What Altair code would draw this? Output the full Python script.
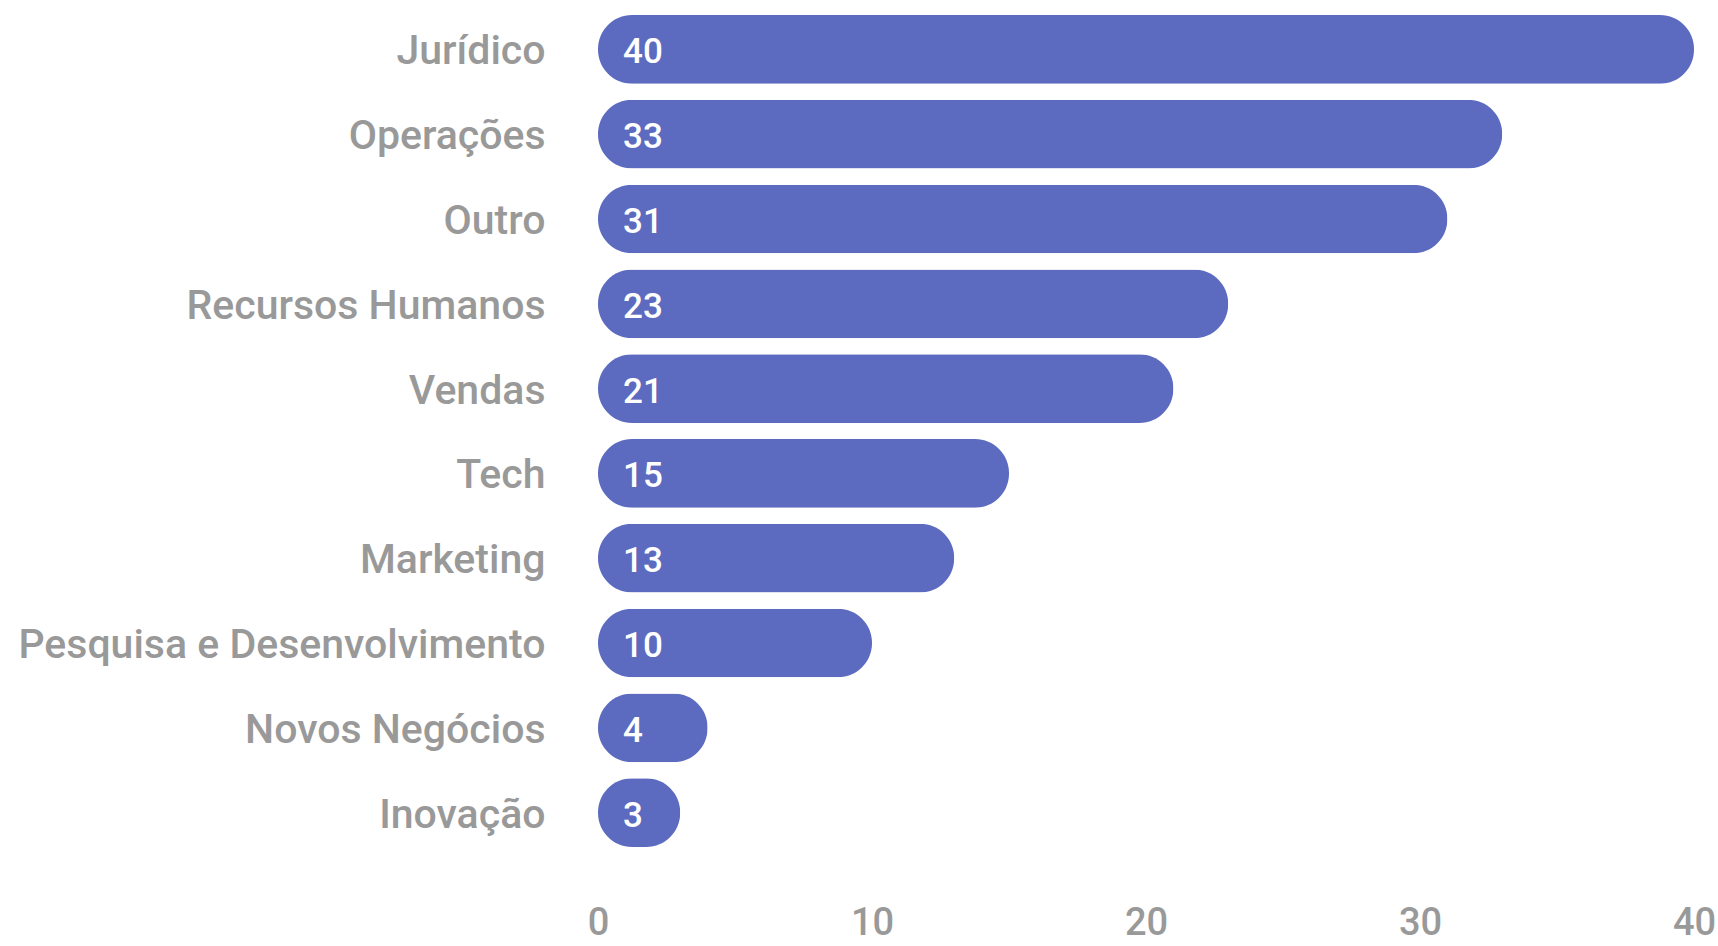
import altair as alt
import pandas as pd

# Department counts, top to bottom
departments = [
    "Jurídico",
    "Operações",
    "Outro",
    "Recursos Humanos",
    "Vendas",
    "Tech",
    "Marketing",
    "Pesquisa e Desenvolvimento",
    "Novos Negócios",
    "Inovação",
]
counts = [40, 33, 31, 23, 21, 15, 13, 10, 4, 3]
x_ticks = [0, 10, 20, 30, 40]

df = pd.DataFrame({"departamento": departments, "total": counts})

BAR_COLOR = "#5c6bc0"
TEXT_GRAY = "#999999"
FONT = "Roboto"

y_enc = alt.Y(
    "departamento:N",
    sort=departments,
    scale=alt.Scale(paddingInner=0.19, paddingOuter=0.095),
    axis=alt.Axis(
        title=None,
        domain=False,
        ticks=False,
        labelFont=FONT,
        labelFontWeight=500,
        labelFontSize=41,
        labelColor=TEXT_GRAY,
        labelPadding=53,
        labelLimit=700,
        labelBaseline="middle",
        labelOffset=3,
    ),
)

x_enc = alt.X(
    "total:Q",
    scale=alt.Scale(domain=[0, 40], nice=False),
    axis=alt.Axis(
        title=None,
        values=x_ticks,
        domain=False,
        ticks=False,
        grid=False,
        labelFont=FONT,
        labelFontWeight=500,
        labelFontSize=38,
        labelColor=TEXT_GRAY,
        labelPadding=49,
        labelFlush=False,
    ),
)

bars = alt.Chart(df).mark_bar(color=BAR_COLOR, cornerRadius=34).encode(
    x=x_enc,
    y=y_enc,
)

values = alt.Chart(df).mark_text(
    align="left",
    baseline="middle",
    dx=25,
    dy=3,
    font=FONT,
    fontWeight=500,
    fontSize=35,
    color="white",
).encode(
    x=alt.datum(0),
    y=alt.Y("departamento:N", sort=departments),
    text="total:Q",
)

chart = (
    alt.layer(bars, values)
    .properties(
        width=1096,
        height=848,
        padding={"left": 598, "top": 7, "right": 24, "bottom": 91},
        autosize=alt.AutoSizeParams(type="none"),
        view=alt.ViewBackground(strokeWidth=0, strokeOpacity=0),
    )
    .configure_view(strokeWidth=0, strokeOpacity=0)
    .configure(background="white")
)

chart.save("out.html", embed_options={"renderer": "svg", "actions": False})
